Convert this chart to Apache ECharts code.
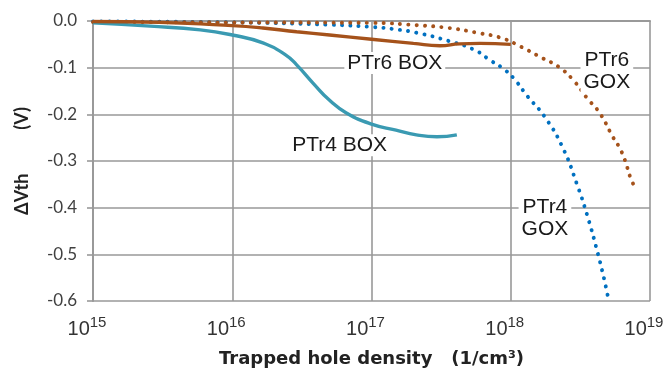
<!DOCTYPE html>
<html>
<head>
<meta charset="utf-8">
<script src="https://cdn.jsdelivr.net/npm/echarts@6/dist/echarts.min.js"></script>
<style>html,body{margin:0;padding:0;background:#fff}#c{width:670px;height:373px}</style>
</head>
<body>
<div id="c"></div>
<script>
// Trapped hole density (1/cm^3) and dVth (V)
const ptr4GoxX = [1e15, 1e16, 5e16, 1.02e17, 1.5e17, 2.1e17, 3.6e17, 5.5e17, 7.1e17, 9.1e17, 1.1e18, 1.3e18, 1.75e18, 2.35e18, 2.99e18, 3.57e18, 4.15e18, 4.66e18, 5.06e18];
const ptr4GoxY = [-0.001, -0.003, -0.008, -0.013, -0.018, -0.025, -0.043, -0.062, -0.084, -0.105, -0.13, -0.159, -0.205, -0.27, -0.35, -0.42, -0.49, -0.55, -0.6];
const ptr6GoxX = [1e15, 1e16, 1e17, 2.1e17, 3.6e17, 5.7e17, 8.7e17, 1.18e18, 1.7e18, 2.2e18, 2.8e18, 3.55e18, 4.35e18, 5.4e18, 6e18, 6.6e18, 7.2e18, 7.6e18];
const ptr6GoxY = [-0.002, -0.003, -0.004, -0.009, -0.015, -0.025, -0.037, -0.055, -0.08, -0.098, -0.126, -0.166, -0.197, -0.248, -0.27, -0.298, -0.334, -0.35];
const ptr4BoxX = [1e15, 2.57e15, 5.9e15, 1e16, 1.66e16, 2.4e16, 2.9e16, 3.8e16, 5e16, 6.6e16, 1e17, 1.5e17, 2.1e17, 2.95e17, 4.1e17];
const ptr4BoxY = [-0.004, -0.011, -0.019, -0.03, -0.047, -0.072, -0.094, -0.133, -0.17, -0.197, -0.221, -0.234, -0.244, -0.248, -0.244];
const ptr6BoxX = [1e15, 3e15, 1e16, 1.66e16, 2.9e16, 5e16, 1e17, 2e17, 3.1e17, 4.3e17, 6e17, 1e18];
const ptr6BoxY = [-0.001, -0.003, -0.01, -0.015, -0.023, -0.03, -0.039, -0.048, -0.053, -0.049, -0.048, -0.05];
const yTicks = [-0.6, -0.5, -0.4, -0.3, -0.2, -0.1, 0.0];
const labelNames = ['PTr4\nGOX', 'PTr6\nGOX', 'PTr4 BOX', 'PTr6 BOX'];
const labelX = [1.76e18, 4.9e18, 5.9e16, 1.47e17];
const labelY = [-0.422, -0.107, -0.266, -0.09];

const zip = (xs, ys) => xs.map((x, i) => [x, ys[i]]);
const colors = ['#0070C0', '#A5521B', '#3A9AB2', '#A5521B'];
const names = ['PTr4 GOX', 'PTr6 GOX', 'PTr4 BOX', 'PTr6 BOX'];
const datas = [zip(ptr4GoxX, ptr4GoxY), zip(ptr6GoxX, ptr6GoxY), zip(ptr4BoxX, ptr4BoxY), zip(ptr6BoxX, ptr6BoxY)];
const dotted = [true, true, false, false];

const series = datas.map((d, i) => ({
  name: names[i], type: 'line', data: d, showSymbol: false, smooth: 0.5,
  lineStyle: dotted[i]
    ? { color: colors[i], width: 3.9, type: [0.1, 8.2], cap: 'round' }
    : { color: colors[i], width: 3.4 },
  z: dotted[i] ? 2 : 3,
  markPoint: {
    symbol: 'rect', symbolSize: 0, silent: true,
    data: [{ coord: [labelX[i], labelY[i]] }],
    label: {
      show: true, position: 'inside', formatter: labelNames[i],
      fontFamily: 'Liberation Sans', fontSize: 21, color: '#1a1a1a',
      backgroundColor: '#fff', padding: [0, 3], lineHeight: 22, align: 'center'
    }
  }
}));

const chart = echarts.init(document.getElementById('c'), null, { renderer: 'canvas' });
chart.setOption({
  animation: false,
  backgroundColor: '#fff',
  grid: { left: 93, top: 21, right: 20, bottom: 72, containLabel: false, outerBoundsMode: 'none' },
  xAxis: {
    type: 'log', logBase: 10, min: 1e15, max: 1e19,
    name: 'Trapped hole density   (1/cm³)', nameLocation: 'middle', nameGap: 49,
    nameTextStyle: { fontFamily: 'DejaVu Sans', fontWeight: 'bold', fontSize: 18, color: '#222', verticalAlign: 'top' },
    axisLine: { show: true, lineStyle: { color: '#999', width: 2 } },
    axisTick: { show: false },
    splitLine: { show: true, lineStyle: { color: '#999', width: 1.6 } },
    minorTick: { show: false },
    axisLabel: {
      margin: 14, color: '#333', padding: [0, 12, 0, 0],
      formatter: v => '{b|10}{s|' + Math.round(Math.log10(v)) + '}',
      rich: {
        b: { fontFamily: 'Liberation Sans', fontSize: 20, lineHeight: 24, verticalAlign: 'bottom' },
        s: { fontFamily: 'Liberation Sans', fontSize: 15, lineHeight: 24, verticalAlign: 'top' }
      }
    }
  },
  yAxis: {
    type: 'value', min: yTicks[0], max: yTicks[yTicks.length - 1], interval: 0.1,
    name: 'ΔVth          (V)', nameLocation: 'middle', nameGap: 62, nameRotate: 90,
    nameTextStyle: { fontFamily: 'Lato', fontWeight: 'bold', fontSize: 18, color: '#222' },
    axisLine: { show: true, lineStyle: { color: '#999', width: 2 } },
    axisTick: { show: true, length: 6, inside: false, lineStyle: { color: '#999', width: 1.6 } },
    splitLine: { show: true, lineStyle: { color: '#999', width: 1.6 } },
    axisLabel: {
      margin: 16, color: '#404040', fontFamily: 'Lato', fontSize: 17,
      formatter: v => Math.abs(v) < 1e-9 ? '0.0' : v.toFixed(1)
    }
  },
  series: series
});
</script>
</body>
</html>
